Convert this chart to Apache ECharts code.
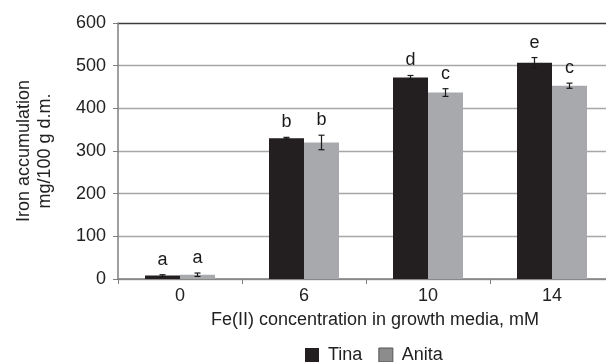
<!DOCTYPE html>
<html>
<head>
<meta charset="utf-8">
<script src="https://cdn.jsdelivr.net/npm/echarts@6/dist/echarts.min.js"></script>
<style>
  html, body { margin: 0; padding: 0; background: #fff; }
  #chart { width: 606px; height: 362px; }
</style>
</head>
<body>
<div id="chart"></div>
<script>
// Fe(II) treatment levels (mM) on the category axis
const categories = ['0', '6', '10', '14'];
const yTicks = [0, 100, 200, 300, 400, 500, 600];

// Iron accumulation, mg/100 g d.m.
const tinaValues = [8, 330, 472, 507];
const tinaErrors = [2, 2, 5, 12];
const tinaLetters = ['a', 'b', 'd', 'e'];

const anitaValues = [10, 320, 437, 453];
const anitaErrors = [4, 17, 9, 6];
const anitaLetters = ['a', 'b', 'c', 'c'];

const FONT = "'Liberation Sans', Arial, sans-serif";
const BAR_W = 35;

function errorSeries(name, values, errors, letters, shift) {
  return {
    type: 'custom',
    name: name + ' error',
    z: 5,
    silent: true,
    data: values.map((v, i) => [i, v, errors[i], letters[i]]),
    renderItem: function (params, api) {
      const i = api.value(0), v = api.value(1), e = api.value(2);
      const top = api.coord([i, v + e]);
      const bot = api.coord([i, v - e]);
      const x = top[0] + shift;
      const cap = 3;
      return {
        type: 'group',
        children: [
          { type: 'line', shape: { x1: x, y1: top[1], x2: x, y2: bot[1] }, style: { stroke: '#1a1a1a', lineWidth: 1.2 } },
          { type: 'line', shape: { x1: x - cap, y1: top[1], x2: x + cap, y2: top[1] }, style: { stroke: '#1a1a1a', lineWidth: 1.2 } },
          { type: 'line', shape: { x1: x - cap, y1: bot[1], x2: x + cap, y2: bot[1] }, style: { stroke: '#1a1a1a', lineWidth: 1.2 } },
          { type: 'text', x: x, y: top[1] - 6, style: { text: api.value(3), fill: '#1a1a1a', font: '18px ' + FONT, align: 'center', verticalAlign: 'bottom' } }
        ]
      };
    }
  };
}

const chart = echarts.init(document.getElementById('chart'), null, { renderer: 'canvas' });
chart.setOption({
  animation: false,
  backgroundColor: '#ffffff',
  textStyle: { fontFamily: FONT },
  grid: { left: 118, top: 23, right: -8, bottom: 83, containLabel: false, outerBoundsMode: 'none' },
  legend: {
    top: 346,
    left: 305,
    padding: 0,
    icon: 'rect',
    itemWidth: 14,
    itemHeight: 14,
    itemGap: 16,
    textStyle: { fontSize: 18, color: '#222', fontFamily: FONT, padding: [0, 0, 0, 4] },
    data: [
      { name: 'Tina', itemStyle: { color: '#231f20' } },
      { name: 'Anita', itemStyle: { color: '#8c8c8c', borderColor: '#555', borderWidth: 1 } }
    ]
  },
  xAxis: {
    type: 'category',
    data: categories,
    boundaryGap: true,
    name: 'Fe(II) concentration in growth media, mM',
    nameLocation: 'middle',
    nameGap: 32,
    nameTextStyle: { fontSize: 18, color: '#222', fontFamily: FONT, padding: [0, 0, 0, 18] },
    axisLine: { lineStyle: { color: '#7f7f7f', width: 1.5 } },
    axisTick: { show: true, length: 5, lineStyle: { color: '#7f7f7f' } },
    axisLabel: { fontSize: 18, color: '#222', margin: 8, fontFamily: FONT }
  },
  yAxis: {
    type: 'value',
    min: 0,
    max: 600,
    interval: 100,
    name: 'Iron accumulation\nmg/100 g d.m.',
    nameLocation: 'middle',
    nameGap: 62,
    nameTextStyle: { fontSize: 18, color: '#222', lineHeight: 21, fontFamily: FONT },
    axisLine: { show: true, lineStyle: { color: '#7f7f7f', width: 1.5 } },
    axisTick: { show: true, length: 5, lineStyle: { color: '#7f7f7f' } },
    axisLabel: {
      fontSize: 18, color: '#222', margin: 12, fontFamily: FONT,
      formatter: v => (yTicks.indexOf(v) >= 0 ? String(v) : '')
    },
    splitLine: {
      show: true,
      lineStyle: { color: ['#a6a6a6', '#a6a6a6', '#a6a6a6', '#a6a6a6', '#a6a6a6', '#a6a6a6', '#3a3a3a'], width: 1.3 }
    }
  },
  series: [
    {
      name: 'Tina', type: 'bar', data: tinaValues, barWidth: BAR_W, barGap: '0%',
      itemStyle: { color: '#231f20' }
    },
    {
      name: 'Anita', type: 'bar', data: anitaValues, barWidth: BAR_W, barGap: '0%',
      itemStyle: { color: '#a7a9ac' }
    },
    errorSeries('Tina', tinaValues, tinaErrors, tinaLetters, -BAR_W / 2),
    errorSeries('Anita', anitaValues, anitaErrors, anitaLetters, BAR_W / 2)
  ]
});
</script>
</body>
</html>
